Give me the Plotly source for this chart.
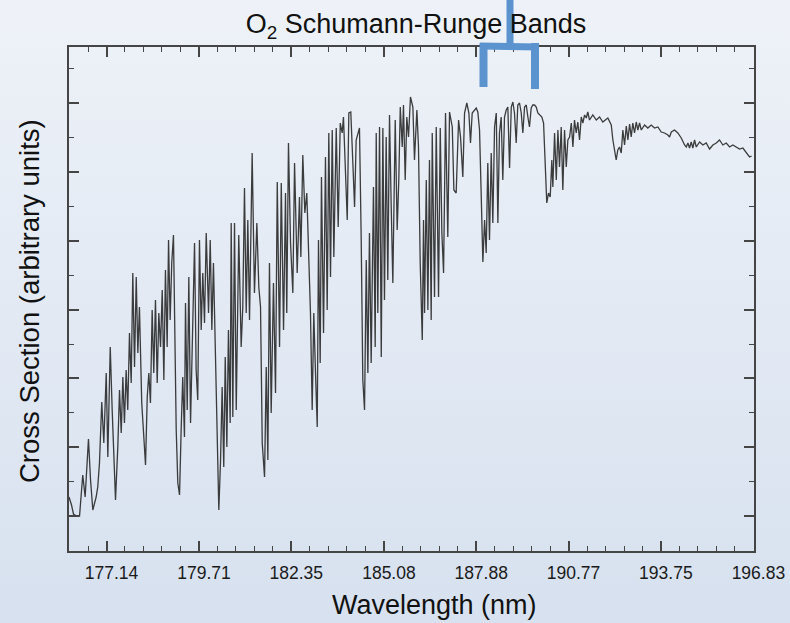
import base64
import plotly.graph_objects as go

# ---------------- data ----------------
# wavenumber (cm^-1) of each sample; the printed axis is labelled in wavelength (nm)
wavenumber = [
    56780, 56758, 56741, 56715, 56688, 56680, 56660, 56639, 56610, 56592,
    56572, 56543, 56529, 56514, 56494, 56476, 56455, 56441, 56420, 56403,
    56389, 56374, 56354, 56339, 56324, 56310, 56296, 56281, 56267, 56252,
    56237, 56223, 56208, 56193, 56179, 56165, 56145, 56130, 56112, 56097,
    56083, 56069, 56054, 56040, 56025, 56010, 55996, 55981, 55966, 55952,
    55938, 55923, 55911, 55897, 55883, 55868, 55856, 55844, 55830, 55815,
    55801, 55787, 55772, 55763, 55748, 55734, 55719, 55705, 55684, 55670,
    55656, 55641, 55626, 55612, 55597, 55582, 55562, 55547, 55533, 55519,
    55504, 55486, 55472, 55457, 55443, 55429, 55416, 55402, 55388, 55373,
    55364, 55350, 55335, 55320, 55298, 55277, 55263, 55248, 55233, 55219,
    55204, 55181, 55161, 55140, 55123, 55108, 55093, 55073, 55058, 55044,
    55030, 55015, 54995, 54977, 54962, 54942, 54927, 54907, 54890, 54879,
    54864, 54846, 54826, 54811, 54788, 54768, 54756, 54739, 54721, 54704,
    54689, 54672, 54657, 54643, 54628, 54613, 54602, 54587, 54576, 54558,
    54541, 54526, 54512, 54497, 54482, 54468, 54447, 54430, 54412, 54395,
    54384, 54366, 54351, 54337, 54320, 54302, 54287, 54273, 54259, 54244,
    54229, 54215, 54200, 54185, 54171, 54157, 54142, 54122, 54107, 54098,
    54084, 54069, 54054, 54040, 54026, 54011, 53997, 53982, 53967, 53953,
    53932, 53915, 53901, 53888, 53871, 53860, 53845, 53831, 53816, 53799,
    53778, 53764, 53743, 53729, 53714, 53696, 53685, 53676, 53661, 53647,
    53633, 53618, 53609, 53589, 53574, 53554, 53539, 53525, 53510, 53493,
    53473, 53458, 53434, 53420, 53400, 53379, 53362, 53342, 53327, 53307,
    53289, 53275, 53260, 53240, 53225, 53211, 53196, 53181, 53167, 53152,
    53138, 53124, 53109, 53094, 53080, 53065, 53050, 53036, 53022, 53007,
    52993, 52978, 52963, 52949, 52934, 52919, 52905, 52891, 52876, 52862,
    52847, 52832, 52818, 52803, 52788, 52774, 52760, 52745, 52731, 52716,
    52701, 52687, 52672, 52652, 52637, 52629, 52620, 52609, 52594, 52579,
    52565, 52556, 52541, 52526, 52512, 52498, 52483, 52469, 52454, 52439,
    52425, 52410, 52395, 52381, 52367, 52352, 52338, 52323, 52308, 52294,
    52279, 52264, 52251, 52236, 52207, 52177, 52148, 52120, 52076, 52046,
    52032, 52017, 52003, 51989, 51974, 51959, 51945, 51930, 51915, 51901,
    51886, 51872, 51858, 51843, 51828, 51814, 51799, 51784, 51755, 51727,
    51697, 51668, 51639, 51610, 51581, 51552, 51537, 51522, 51494, 51465,
    51435, 51406, 51391, 51377, 51363, 51348, 51334, 51319, 51304, 51275,
    51246, 51217, 51188, 51159, 51129, 51101, 51072, 51042, 51013, 50985,
    50955, 50926, 50897, 50868, 50839, 50821,
]

# cross section (arbitrary units)
cross_section = [
    54, 46, 37, 35, 35, 45, 76, 54, 112, 71,
    41, 54, 64, 88, 149, 108, 178, 94, 204, 141,
    94, 51, 104, 161, 118, 174, 128, 181, 141, 218,
    168, 278, 184, 274, 198, 244, 148, 118, 86, 154,
    178, 148, 241, 178, 251, 168, 238, 204, 261, 171,
    281, 204, 311, 231, 288, 316, 221, 121, 68, 56,
    121, 174, 114, 248, 141, 274, 128, 194, 308, 181,
    151, 311, 221, 278, 228, 318, 238, 311, 221, 288,
    201, 88, 41, 91, 164, 84, 194, 104, 221, 128,
    328, 134, 328, 141, 316, 204, 244, 363, 238, 331,
    231, 398, 258, 328, 264, 244, 108, 74, 184, 91,
    288, 138, 268, 158, 369, 204, 368, 221, 358, 238,
    408, 308, 258, 388, 278, 354, 294, 396, 338, 358,
    298, 238, 141, 238, 178, 124, 311, 188, 374, 218,
    394, 241, 418, 274, 421, 294, 423, 324, 428, 418,
    434, 371, 331, 438, 439, 388, 344, 411, 418, 423,
    311, 171, 141, 291, 178, 318, 188, 364, 204, 418,
    238, 424, 194, 423, 251, 414, 271, 436, 344, 268,
    431, 321, 371, 444, 404, 446, 371, 434, 414, 454,
    444, 391, 441, 404, 288, 211, 331, 238, 371, 241,
    391, 231, 418, 254, 424, 254, 423, 318, 278, 438,
    314, 439, 424, 361, 358, 431, 414, 374, 438, 448,
    438, 408, 438, 441, 443, 439, 421, 354, 289, 331,
    298, 388, 311, 398, 328, 424, 438, 328, 418, 434,
    371, 434, 441, 444, 383, 444, 449, 438, 408, 446,
    448, 438, 418, 444, 446, 434, 424, 443, 446, 446,
    444, 438, 436, 434, 428, 404, 371, 348, 358, 354,
    391, 364, 418, 371, 421, 384, 424, 361, 421, 384,
    411, 414, 428, 404, 431, 418, 429, 411, 434, 428,
    436, 433, 439, 431, 436, 431, 434, 429, 433, 426,
    411, 398, 391, 401, 404, 398, 421, 406, 425, 411,
    427, 414, 428, 418, 429, 421, 428, 421, 426, 423,
    426, 423, 424, 419, 418, 416, 414, 419, 421, 418,
    413, 406, 404, 408, 403, 409, 403, 411, 404, 409,
    406, 408, 402, 406, 408, 411, 406, 408, 404, 406,
    404, 402, 403, 399, 394, 395,
]

# tick labels on the wavelength axis (nm)
wavelength_labels = ["177.14", "179.71", "182.35", "185.08",
                     "187.88", "190.77", "193.75", "196.83"]

title_text = "O<sub>2</sub> Schumann-Runge Bands"
x_title = "Wavelength (nm)"
y_title = "Cross Section (arbitrary units)"

# ---------------- layout helpers ----------------
W, H = 790, 623
L, R, T, B = 69, 36, 47, 72
PW, PH = W - L - R, H - T - B


def px_x(px):
    return (px - L) / PW


def px_y(py):
    return (H - B - py) / PH


tickvals = [1e7 / float(w) for w in wavelength_labels]
major_step = (tickvals[0] - tickvals[-1]) / (len(tickvals) - 1)

FONT = "Liberation Sans, Arial, Helvetica, sans-serif"
AX = "#454545"

fig = go.Figure()
fig.add_trace(go.Scatter(
    x=wavenumber, y=cross_section, mode="lines",
    line=dict(color="rgba(40,40,40,0.9)", width=1.3),
    hoverinfo="skip", showlegend=False,
))

# background gradient as an inline SVG image
svg = ('<svg xmlns="http://www.w3.org/2000/svg" width="790" height="623">'
       '<defs><linearGradient id="g" x1="0" y1="0" x2="0" y2="1">'
       '<stop offset="0" stop-color="#eef2f8"/>'
       '<stop offset="1" stop-color="#d7e1ef"/>'
       '</linearGradient></defs>'
       '<rect width="790" height="623" fill="url(#g)"/></svg>')
svg_uri = "data:image/svg+xml;base64," + base64.b64encode(svg.encode()).decode()

bracket_color = "#5b93cf"
shapes = [
    dict(type="line", xref="paper", yref="paper", x0=px_x(510), x1=px_x(510),
         y0=px_y(-2), y1=px_y(45), line=dict(color=bracket_color, width=7)),
    dict(type="line", xref="paper", yref="paper", x0=px_x(480), x1=px_x(539),
         y0=px_y(46), y1=px_y(47), line=dict(color=bracket_color, width=7)),
    dict(type="line", xref="paper", yref="paper", x0=px_x(483.5), x1=px_x(483.5),
         y0=px_y(43), y1=px_y(87), line=dict(color=bracket_color, width=8)),
    dict(type="line", xref="paper", yref="paper", x0=px_x(535), x1=px_x(535),
         y0=px_y(43), y1=px_y(89), line=dict(color=bracket_color, width=8)),
]

fig.update_layout(
    width=W, height=H,
    margin=dict(l=L, r=R, t=T, b=B, pad=0, autoexpand=False),
    paper_bgcolor="#e4ebf4",
    plot_bgcolor="rgba(0,0,0,0)",
    font=dict(family=FONT, color="#1a1a1a"),
    images=[dict(source=svg_uri, xref="paper", yref="paper",
                 x=px_x(0), y=px_y(0), sizex=W / PW, sizey=H / PH,
                 xanchor="left", yanchor="top", sizing="stretch", layer="below")],
    title=dict(text=title_text, x=416 / W, xanchor="center", xref="container",
               y=1 - 24 / H, yanchor="middle", yref="container",
               font=dict(size=27, family=FONT, color="#111111")),
    xaxis=dict(
        range=[56780, 50800], tickmode="array", tickvals=tickvals,
        ticktext=wavelength_labels, ticks="inside", ticklen=10, tickwidth=1.6,
        tickcolor=AX, showline=True, linecolor=AX, linewidth=1.8, mirror="ticks",
        showgrid=False, zeroline=False, ticklabelshift=-5, ticklabelstandoff=5,
        automargin=False,
        tickfont=dict(size=17.5, family=FONT, color="#1a1a1a"),
        minor=dict(tickmode="linear", tick0=tickvals[0], dtick=major_step / 5,
                   ticks="inside", ticklen=5, tickwidth=1.3, tickcolor=AX,
                   showgrid=False),
    ),
    yaxis=dict(
        range=[0, 504], tickmode="linear", tick0=35, dtick=68.8,
        showticklabels=False, ticks="inside", ticklen=10, tickwidth=1.6,
        tickcolor=AX, showline=True, linecolor=AX, linewidth=1.8, mirror="ticks",
        showgrid=False, zeroline=False, automargin=False,
        minor=dict(tickmode="linear", tick0=35, dtick=34.4, ticks="inside",
                   ticklen=5, tickwidth=1.3, tickcolor=AX, showgrid=False),
    ),
    shapes=shapes,
    annotations=[
        dict(text=x_title, xref="paper", yref="paper", x=px_x(435), y=px_y(605),
             xanchor="center", yanchor="middle", showarrow=False,
             font=dict(size=27, family=FONT, color="#111111")),
        dict(text=y_title, xref="paper", yref="paper", x=px_x(29), y=px_y(301),
             xanchor="center", yanchor="middle", showarrow=False, textangle=-90,
             font=dict(size=27.5, family=FONT, color="#111111")),
    ],
)

fig.write_html("out.html")
